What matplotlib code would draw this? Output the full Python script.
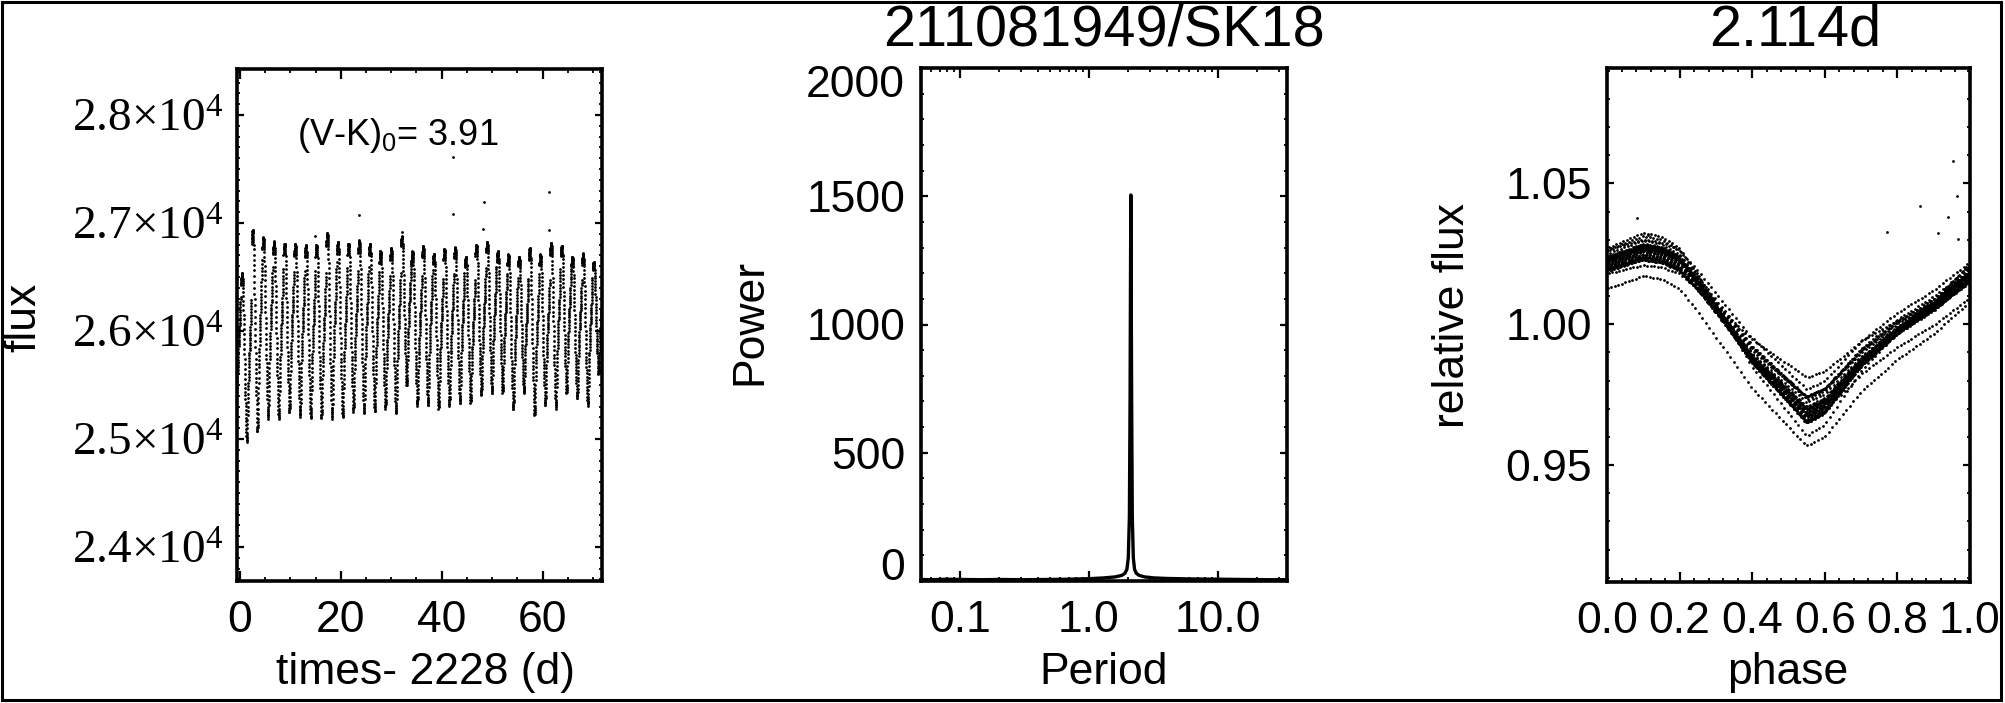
import numpy as np
import matplotlib
matplotlib.use('Agg')
import matplotlib.pyplot as plt
from matplotlib.ticker import (MultipleLocator, FixedLocator, FixedFormatter,
                               LogLocator, NullFormatter, FuncFormatter)
from matplotlib.patches import Rectangle
from matplotlib.transforms import ScaledTranslation

plt.rcParams['font.family'] = ['Liberation Sans', 'DejaVu Sans']
plt.rcParams['mathtext.fontset'] = 'custom'
plt.rcParams['mathtext.rm'] = 'Liberation Serif'
plt.rcParams['mathtext.sf'] = 'Liberation Sans'
plt.rcParams['mathtext.it'] = 'Liberation Serif:italic'

# ---------------- data ----------------
period_days = 2.114
t_ref = 0.15                       # phase-zero time (d)
time_start, time_end, cadence = -0.6, 71.8, 0.0204   # K2 long cadence sampling

# mean phased light-curve shape (right panel)
shape_phase = [0.00, 0.05, 0.10, 0.15, 0.20, 0.25, 0.30, 0.35, 0.40, 0.45, 0.50,
               0.55, 0.60, 0.65, 0.70, 0.75, 0.80, 0.85, 0.90, 0.95, 1.00]
shape_flux = [1.021, 1.023, 1.025, 1.024, 1.021, 1.014, 1.006, 0.998, 0.990, 0.984, 0.978,
              0.972, 0.975, 0.982, 0.989, 0.994, 0.999, 1.003, 1.007, 1.012, 1.017]

# per-rotation maxima / minima of the raw flux (left panel), cycles -1 .. 33
first_cycle = -1
cycle_high = [26540, 26540, 26940, 26870, 26830, 26810, 26810, 26800, 26800, 26910,
              26830, 26810, 26840, 26810, 26740, 26770, 26880, 26740, 26790, 26720,
              26760, 26780, 26690, 26800, 26830, 26740, 26710, 26690, 26770, 26710,
              26820, 26790, 26690, 26720, 26640]
cycle_low = [25200, 24966, 25058, 25185, 25176, 25241, 25204, 25185, 25185, 25185,
             25194, 25250, 25231, 25250, 25278, 25231, 25491, 25305, 25305, 25278,
             25305, 25324, 25333, 25398, 25417, 25426, 25268, 25420, 25213, 25305,
             25278, 25417, 25370, 25305, 25600]

# isolated high points
outlier_time = [14.88, 23.58, 32.10, 42.33, 42.30, 48.29, 48.48, 61.27, 61.38, 63.80]
outlier_flux = [26880, 27074, 26920, 27608, 27083, 26944, 27191, 26935, 27284, 26787]

# periodogram (middle panel)
ls_period = [0.05, 0.06, 0.08, 0.1, 0.15, 0.2, 0.3, 0.5, 0.7, 1.0, 1.3, 1.6, 1.8, 1.9,
             1.97, 2.02, 2.06, 2.085, 2.10, 2.114, 2.128, 2.145, 2.17, 2.21, 2.26, 2.33,
             2.45, 2.7, 3.2, 4.0, 6.0, 10.0, 15.0, 25.0, 35.0]
ls_power = [6, 5, 7, 6, 5, 6, 5, 6, 7, 9, 12, 16, 22, 30,
            45, 90, 250, 700, 1150, 1505, 1150, 700, 250, 90, 45, 30,
            22, 16, 12, 10, 8, 7, 6, 5, 5]

title_mid = '211081949/SK18'
title_right = '2.114d'
vk_text = r'(V-K$\mathsf{)_0}$= 3.91'

# ---------------- build light curve ----------------
times = np.arange(time_start, time_end, cadence)
cyc = np.floor((times - t_ref) / period_days).astype(int)
ph = ((times - t_ref) / period_days) % 1.0
S = np.interp(ph, shape_phase, shape_flux)
Sn = (S - min(shape_flux)) / (max(shape_flux) - min(shape_flux))
hi = np.array(cycle_high)[cyc - first_cycle]
lo = np.array(cycle_low)[cyc - first_cycle]
flux = lo + (hi - lo) * Sn

t_all = np.concatenate([times, outlier_time])
f_all = np.concatenate([flux, outlier_flux])
rel_all = f_all / np.mean(f_all)
ph_all = ((t_all - t_ref) / period_days) % 1.0

# ---------------- figure ----------------
W, H = 2005, 703
fig = plt.figure(figsize=(W / 100, H / 100), dpi=100)


def px_axes(x0, x1, ytop, ybot):
    return fig.add_axes([x0 / W, (H - ybot) / H, (x1 - x0) / W, (ybot - ytop) / H])


ax1 = px_axes(237, 602, 69, 581)
ax2 = px_axes(921, 1287, 68, 581)
ax3 = px_axes(1607, 1970, 68, 582)

FS = 32
for ax in (ax1, ax2, ax3):
    for s in ax.spines.values():
        s.set_linewidth(2.6)
    ax.tick_params(which='both', direction='in', top=True, right=True, colors='k')
    ax.tick_params(axis='x', which='major', length=7, width=1.6, labelsize=FS, pad=14)
    ax.tick_params(axis='x', which='minor', length=3.2, width=1.3)
    ax.tick_params(axis='y', which='major', length=5, width=1.6, labelsize=FS, pad=11)
    ax.tick_params(axis='y', which='minor', length=2.5, width=1.3)

# left: raw light curve
ax1.plot(t_all, f_all, ls='none', marker='o', ms=2.0, mew=0, color='k')
ax1.set_xlim(-0.6, 71.8)
ax1.set_ylim(23685, 28426)
ax1.xaxis.set_major_locator(FixedLocator([0, 20, 40, 60]))
ax1.xaxis.set_minor_locator(MultipleLocator(5))
ax1.yaxis.set_major_locator(FixedLocator([24000, 25000, 26000, 27000, 28000]))
ax1.yaxis.set_minor_locator(MultipleLocator(100))
ax1.yaxis.set_major_formatter(FuncFormatter(
    lambda v, p: r'$\mathrm{%.1f{\times}10^{4}}$' % (v / 1e4)))
ax1.tick_params(axis='y', which='major', labelsize=34, pad=9.5)
ax1.text(11.3, 27722, vk_text, fontsize=26, ha='left', va='baseline')

# middle: periodogram
ax2.plot(ls_period, ls_power, color='k', lw=2.4, solid_joinstyle='round')
ax2.set_xscale('log')
ax2.set_xlim(0.05, 34.3)
ax2.set_ylim(0, 2000)
ax2.xaxis.set_major_locator(FixedLocator([0.1, 1.0, 10.0]))
ax2.xaxis.set_major_formatter(FixedFormatter(['0.1', '1.0', '10.0']))
ax2.xaxis.set_minor_locator(LogLocator(base=10, subs=np.arange(2, 10)))
ax2.xaxis.set_minor_formatter(NullFormatter())
ax2.yaxis.set_major_locator(FixedLocator([0, 500, 1000, 1500, 2000]))
ax2.yaxis.set_minor_locator(MultipleLocator(100))
ax2.tick_params(axis='y', pad=11.5)

# right: phased light curve
ax3.plot(ph_all, rel_all, ls='none', marker='o', ms=2.0, mew=0, color='k')
ax3.set_xlim(0, 1)
ax3.set_ylim(0.9085, 1.091)
ax3.xaxis.set_major_locator(MultipleLocator(0.2))
ax3.xaxis.set_minor_locator(MultipleLocator(0.04))
ax3.xaxis.set_major_formatter(FuncFormatter(lambda v, p: '%.1f' % v))
ax3.yaxis.set_major_locator(FixedLocator([0.95, 1.00, 1.05]))
ax3.yaxis.set_minor_locator(MultipleLocator(0.01))
ax3.yaxis.set_major_formatter(FuncFormatter(lambda v, p: '%.2f' % v))

# IDL-style: end labels on middle y axis pulled inside the range
for tick, val in zip(ax2.yaxis.get_major_ticks(), [0, 500, 1000, 1500, 2000]):
    if val == 0:
        tick.label1.set_transform(tick.label1.get_transform() +
                                  ScaledTranslation(0, 17 / 100, fig.dpi_scale_trans))
    if val == 2000:
        tick.label1.set_transform(tick.label1.get_transform() +
                                  ScaledTranslation(0, -13 / 100, fig.dpi_scale_trans))


def ftext(x, y, s, **kw):
    return fig.text(x / W, (H - y) / H, s, **kw)


# titles and axis labels
ftext(1104, 45, title_mid, fontsize=41.5, ha='center', va='baseline')
ftext(1795, 45, title_right, fontsize=41.5, ha='center', va='baseline')
ftext(24, 317, 'flux', fontsize=FS, rotation=90, ha='center', va='center')
ftext(425, 684, 'times- 2228 (d)', fontsize=FS, ha='center', va='baseline')
ftext(750, 322, 'Power', fontsize=FS, rotation=90, ha='center', va='center')
ftext(1104, 684, 'Period', fontsize=FS, ha='center', va='baseline')
ftext(1452, 316, 'relative flux', fontsize=FS, rotation=90, ha='center', va='center')
ftext(1788, 684, 'phase', fontsize=FS, ha='center', va='baseline')

# outer frame
fig.add_artist(Rectangle((1.5 / W, 3.0 / H), 1999.5 / W, 698.5 / H,
                         transform=fig.transFigure, fill=False, lw=2.2,
                         edgecolor='k'))

fig.savefig('out.png', dpi=100)
